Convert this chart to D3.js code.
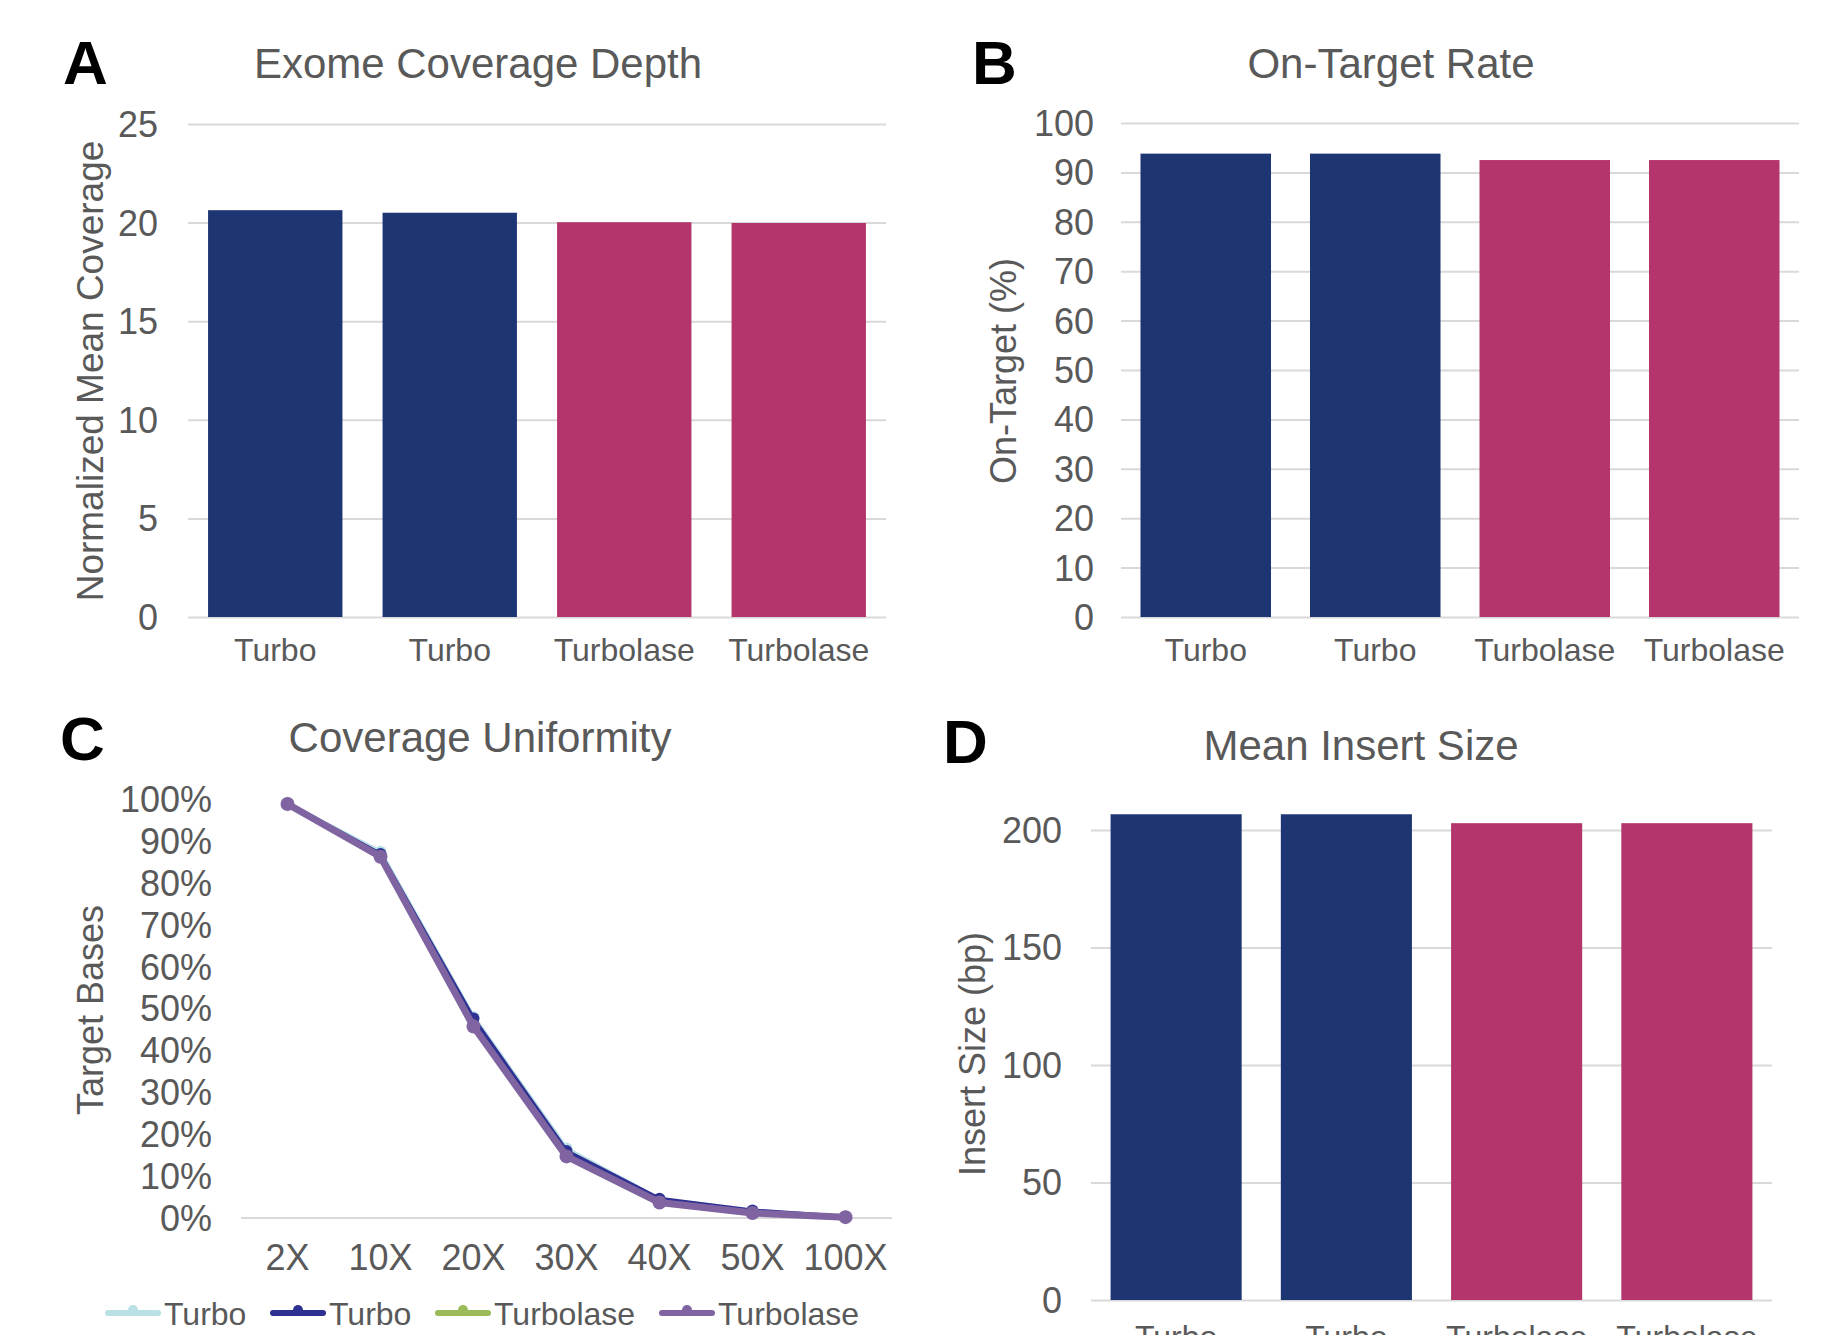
<!DOCTYPE html>
<html>
<head>
<meta charset="utf-8">
<script src="https://cdn.jsdelivr.net/npm/d3@7"></script>
<style>
  body { margin: 0; background: #fff; }
  svg { display: block; font-family: "Liberation Sans", Arial, sans-serif; }
  .grid line { stroke: #d9d9d9; stroke-width: 2; }
  .grid path { display: none; }
  .tick text { fill: #595959; }
</style>
</head>
<body>
<svg id="fig" width="1840" height="1335"></svg>
<script>
// bar charts share the same categories
var barCats = ["Turbo", "Turbo", "Turbolase", "Turbolase"];
var barColors = ["#1d3573", "#1d3573", "#b3356c", "#b3356c"];

var depthVals = [20.63, 20.5, 20.02, 19.98];
var depthTicks = [0, 5, 10, 15, 20, 25];

var onTargetVals = [93.8, 93.8, 92.5, 92.5];
var onTargetTicks = [0, 10, 20, 30, 40, 50, 60, 70, 80, 90, 100];

var insertVals = [206.7, 206.7, 202.9, 202.9];
var insertTicks = [0, 50, 100, 150, 200];

// coverage uniformity line chart
var depthLevels = ["2X", "10X", "20X", "30X", "40X", "50X", "100X"];
var uniTicks = [0, 10, 20, 30, 40, 50, 60, 70, 80, 90, 100];
var seriesNames = ["Turbo", "Turbo", "Turbolase", "Turbolase"];
var seriesColors = ["#b9e0e5", "#2e3192", "#9bbb59", "#8064a2"];
var turboA = [98.9, 87.4, 48.0, 16.6, 4.5, 1.7, 0.3];
var turboB = [98.9, 86.9, 47.6, 16.0, 4.6, 1.8, 0.3];
var lasA   = [98.8, 86.4, 46.2, 15.0, 3.9, 1.3, 0.2];
var lasB   = [98.8, 86.2, 45.7, 14.7, 3.7, 1.2, 0.2];
var uniSeries = [turboA, turboB, lasA, lasB];

var svg = d3.select("#fig");
var grey = "#595959";

function panelLetter(txt, x, y) {
  svg.append("text")
    .attr("x", x).attr("y", y)
    .attr("font-size", 62).attr("font-weight", "bold")
    .attr("fill", "#000")
    .text(txt);
}

function title(txt, x, y) {
  svg.append("text")
    .attr("x", x).attr("y", y)
    .attr("text-anchor", "middle")
    .attr("font-size", 42).attr("fill", grey)
    .text(txt);
}

function yTitle(txt, x, y, size) {
  svg.append("text")
    .attr("transform", "translate(" + x + "," + y + ") rotate(-90)")
    .attr("text-anchor", "middle")
    .attr("dy", "0.35em")
    .attr("font-size", size).attr("fill", grey)
    .text(txt);
}

// generic bar panel
function barPanel(o) {
  var x = d3.scaleBand()
      .domain(d3.range(barCats.length))
      .range([o.x0, o.x1])
      .paddingInner(0.23)
      .paddingOuter(0.115);
  var y = d3.scaleLinear()
      .domain([0, o.ticks[o.ticks.length - 1]])
      .range([o.y0, o.yTop]);

  var g = svg.append("g");

  // gridlines
  g.append("g")
      .attr("class", "grid")
      .attr("transform", "translate(" + o.x0 + ",0)")
      .call(d3.axisLeft(y).tickValues(o.ticks).tickSize(-(o.x1 - o.x0)).tickFormat(""));

  g.selectAll("rect")
      .data(o.vals)
    .enter().append("rect")
      .attr("x", function(d, i) { return x(i); })
      .attr("y", function(d) { return y(d); })
      .attr("width", x.bandwidth())
      .attr("height", function(d) { return o.y0 - y(d); })
      .attr("fill", function(d, i) { return barColors[i]; });

  // y tick labels
  g.selectAll("text.yt")
      .data(o.ticks)
    .enter().append("text")
      .attr("class", "yt")
      .attr("x", o.labelX)
      .attr("y", function(d) { return y(d); })
      .attr("dy", "0.36em")
      .attr("text-anchor", "end")
      .attr("font-size", 36).attr("fill", grey)
      .text(function(d) { return d; });

  // x labels
  g.selectAll("text.xt")
      .data(barCats)
    .enter().append("text")
      .attr("class", "xt")
      .attr("x", function(d, i) { return x(i) + x.bandwidth() / 2; })
      .attr("y", o.xLabelY)
      .attr("text-anchor", "middle")
      .attr("font-size", 32).attr("fill", grey)
      .text(function(d) { return d; });
}

// ---- A ----
panelLetter("A", 63, 84);
title("Exome Coverage Depth", 478, 78);
barPanel({ x0: 188, x1: 886, y0: 617, yTop: 124, vals: depthVals, ticks: depthTicks,
           labelX: 158, xLabelY: 661 });
yTitle("Normalized Mean Coverage", 90, 371, 37);

// ---- B ----
panelLetter("B", 972, 84);
title("On-Target Rate", 1391, 78);
barPanel({ x0: 1121, x1: 1799, y0: 617, yTop: 123, vals: onTargetVals, ticks: onTargetTicks,
           labelX: 1094, xLabelY: 661 });
yTitle("On-Target (%)", 1003, 371, 36);

// ---- D ----
panelLetter("D", 943, 763);
title("Mean Insert Size", 1361, 760);
// insert size axis tops out at the 200 gridline, bars run past it
barPanel({ x0: 1091, x1: 1772, y0: 1300, yTop: 830, vals: insertVals, ticks: insertTicks,
           labelX: 1062, xLabelY: 1348 });
yTitle("Insert Size (bp)", 972, 1054, 36);

// ---- C ----
panelLetter("C", 60, 760);
title("Coverage Uniformity", 480, 752);
(function() {
  var x0 = 241, x1 = 892, y0 = 1218, yTop = 799;
  var x = d3.scalePoint().domain(depthLevels).range([x0, x1]).padding(0.5);
  var y = d3.scaleLinear().domain([0, 100]).range([y0, yTop]);

  var g = svg.append("g");
  g.append("line")
      .attr("x1", x0).attr("x2", x1)
      .attr("y1", y0).attr("y2", y0)
      .attr("stroke", "#d9d9d9").attr("stroke-width", 2);

  g.selectAll("text.yt")
      .data(uniTicks)
    .enter().append("text")
      .attr("x", 212)
      .attr("y", function(d) { return y(d); })
      .attr("dy", "0.36em")
      .attr("text-anchor", "end")
      .attr("font-size", 36).attr("fill", grey)
      .text(function(d) { return d + "%"; });

  g.selectAll("text.xt")
      .data(depthLevels)
    .enter().append("text")
      .attr("x", function(d) { return x(d); })
      .attr("y", 1270)
      .attr("text-anchor", "middle")
      .attr("font-size", 36).attr("fill", grey)
      .text(function(d) { return d; });

  var line = d3.line()
      .x(function(d, i) { return x(depthLevels[i]); })
      .y(function(d) { return y(d); });
  var widths = [4, 4, 3, 7];
  var radii = [6, 6, 5, 7];

  uniSeries.forEach(function(s, k) {
    g.append("path")
        .datum(s)
        .attr("d", line)
        .attr("fill", "none")
        .attr("stroke", seriesColors[k])
        .attr("stroke-width", widths[k])
        .attr("stroke-linejoin", "round");
    g.selectAll("circle.s" + k)
        .data(s)
      .enter().append("circle")
        .attr("cx", function(d, i) { return x(depthLevels[i]); })
        .attr("cy", function(d) { return y(d); })
        .attr("r", radii[k])
        .attr("fill", seriesColors[k]);
  });

  yTitle("Target Bases", 90, 1010, 36);

  // legend
  var legX = [108, 273, 438, 662];
  var legY = 1313;
  var leg = g.selectAll("g.leg")
      .data(seriesNames)
    .enter().append("g")
      .attr("transform", function(d, i) { return "translate(" + legX[i] + "," + legY + ")"; });
  leg.append("line")
      .attr("x1", 0).attr("x2", 50)
      .attr("stroke", function(d, i) { return seriesColors[i]; })
      .attr("stroke-width", 6)
      .attr("stroke-linecap", "round");
  leg.append("circle")
      .attr("cx", 25).attr("cy", -3).attr("r", 5)
      .attr("fill", function(d, i) { return seriesColors[i]; });
  leg.append("text")
      .attr("x", 56).attr("y", 12)
      .attr("font-size", 32).attr("fill", grey)
      .text(function(d) { return d; });
})();
</script>
</body>
</html>
